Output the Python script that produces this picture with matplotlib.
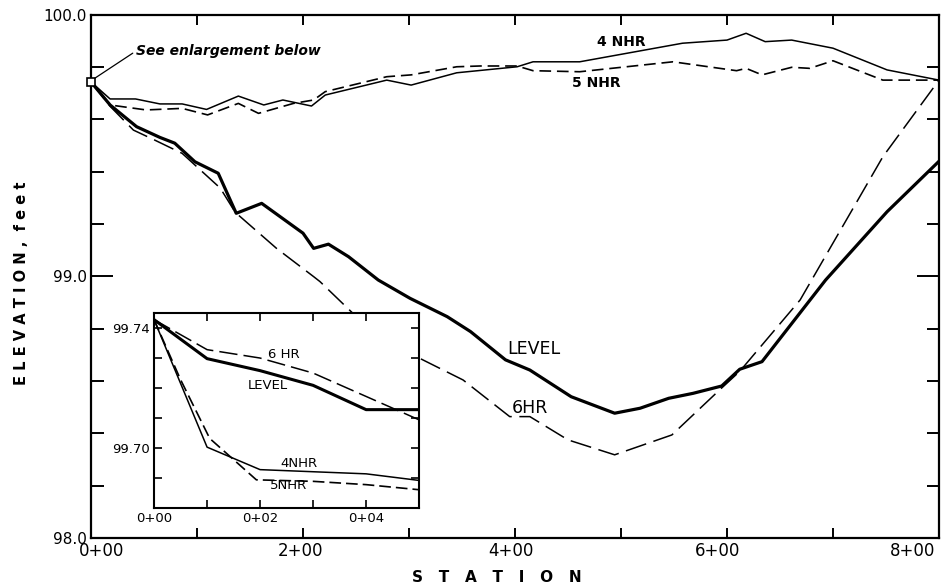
import numpy as np
import matplotlib.pyplot as plt
import matplotlib.transforms as mtransforms
from matplotlib.ticker import MultipleLocator, FixedLocator

# ---- main profile data (station in hundreds of ft, elevation in ft)
nhr4_x = [0, 0.18, 0.42, 0.65, 0.86, 1.09, 1.39, 1.63, 1.81, 2.08, 2.21, 2.79, 3.02, 3.45,
          4.02, 4.17, 4.61, 5.58, 6.0, 6.18, 6.36, 6.61, 7.0, 7.51, 8.0]
nhr4_y = [99.743, 99.678, 99.678, 99.659, 99.659, 99.638, 99.689, 99.655, 99.674, 99.651,
          99.693, 99.750, 99.731, 99.778, 99.801, 99.820, 99.820, 99.891, 99.903, 99.929,
          99.897, 99.903, 99.872, 99.789, 99.750]

nhr5_x = [0, 0.18, 0.52, 0.86, 1.10, 1.39, 1.58, 1.91, 2.10, 2.21, 2.79, 3.02, 3.45, 3.67,
          4.02, 4.17, 4.61, 5.49, 6.09, 6.18, 6.33, 6.61, 6.78, 7.0, 7.47, 8.0]
nhr5_y = [99.743, 99.655, 99.636, 99.642, 99.617, 99.661, 99.623, 99.661, 99.674, 99.706,
          99.763, 99.770, 99.801, 99.804, 99.804, 99.786, 99.782, 99.820, 99.786, 99.795,
          99.770, 99.799, 99.795, 99.824, 99.750, 99.750]

level_x = [0, 0.18, 0.43, 0.65, 0.79, 0.98, 1.20, 1.37, 1.61, 2.0, 2.10, 2.24, 2.43, 2.71,
           3.01, 3.36, 3.58, 3.91, 4.14, 4.53, 4.94, 5.18, 5.45, 5.68, 5.95, 6.12, 6.33,
           6.93, 7.51, 8.0]
level_y = [99.743, 99.655, 99.572, 99.531, 99.509, 99.438, 99.394, 99.241, 99.279, 99.165,
           99.107, 99.123, 99.075, 98.986, 98.916, 98.846, 98.789, 98.681, 98.642, 98.540,
           98.477, 98.496, 98.534, 98.553, 98.581, 98.645, 98.674, 98.986, 99.247, 99.44]

hr6_x = [0, 0.18, 0.40, 0.60, 0.86, 1.22, 1.36, 1.75, 2.10, 2.16, 2.47, 3.10, 3.51, 3.95,
         4.14, 4.50, 4.94, 5.48, 5.93, 6.12, 6.69, 7.47, 8.0]
hr6_y = [99.743, 99.650, 99.559, 99.521, 99.470, 99.337, 99.245, 99.107, 98.999, 98.980,
         98.859, 98.687, 98.604, 98.464, 98.464, 98.375, 98.318, 98.394, 98.566, 98.637,
         98.910, 99.457, 99.750]

# ---- enlargement data (station in ft)
in_x = [0, 1, 2, 3, 4, 5]
in_level = [99.7428, 99.7298, 99.7258, 99.7209, 99.7128, 99.7128]
in_hr6 = [99.7428, 99.7328, 99.7300, 99.7250, 99.7172, 99.7094]
in_nhr4_x = [0, 1, 2, 4, 5]
in_nhr4 = [99.7428, 99.7003, 99.6928, 99.6914, 99.6892]
in_nhr5_x = [0, 0.5, 1.05, 1.93, 3, 4, 5]
in_nhr5 = [99.7428, 99.7228, 99.7032, 99.6894, 99.6889, 99.6878, 99.6861]

main_xticks = [0, 2, 4, 6, 8]
main_xlabels = ['0+00', '2+00', '4+00', '6+00', '8+00']
inset_xticks = [0, 2, 4]
inset_xlabels = ['0+00', '0+02', '0+04']

plt.rcParams['font.family'] = 'DejaVu Sans'

fig = plt.figure(figsize=(9.51, 5.88), dpi=100)
ax = fig.add_axes([0.0957, 0.085, 0.8917, 0.890])

ax.plot(nhr4_x, nhr4_y, color='black', lw=1.1)
ax.plot(nhr5_x, nhr5_y, color='black', lw=1.2, dashes=(7, 3.5))
ax.plot(level_x, level_y, color='black', lw=2.3)
ax.plot(hr6_x, hr6_y, color='black', lw=1.1, dashes=(14, 5))
ax.plot([0], [99.743], marker='s', ms=6, mfc='white', mec='black', mew=1.2, clip_on=False, zorder=5)

ax.set_xlim(0, 8)
ax.set_ylim(98.0, 100.0)
ax.set_xticks(main_xticks, main_xlabels)
ax.xaxis.set_minor_locator(FixedLocator([1, 3, 5, 7]))
ax.set_yticks([98.0, 99.0, 100.0], ['98.0', '99.0', '100.0'])
ax.yaxis.set_minor_locator(MultipleLocator(0.2))
ax.tick_params(axis='x', which='both', direction='in', length=7, width=1.4, top=True,
               labelsize=12, pad=3)
ax.tick_params(axis='y', which='major', direction='in', length=16, width=1.4, right=True,
               labelsize=11, pad=3)
ax.tick_params(axis='y', which='minor', direction='in', length=9, width=1.4, right=True)
for s in ax.spines.values():
    s.set_linewidth(1.6)

# hand-lettered station labels sit a little off their ticks
shifts = [11, -3, -4, -9, -26]
for lab, dx in zip(ax.get_xticklabels(), shifts):
    lab.set_transform(lab.get_transform() + mtransforms.Affine2D().translate(dx, 0))

fig.text(497 / 951, 1 - 577 / 588, 'S   T   A   T   I   O   N', fontsize=11,
         fontweight='bold', ha='center', va='center')
fig.text(22 / 951, 1 - 283 / 588, 'E L E V A T I O N ,  f e e t', fontsize=10.5,
         fontweight='bold', rotation=90, ha='center', va='center')

ax.text(5.0, 99.895, '4 NHR', fontsize=10, fontweight='bold', ha='center', va='center')
ax.text(4.77, 99.739, '5 NHR', fontsize=10, fontweight='bold', ha='center', va='center')
ax.text(4.18, 98.723, 'LEVEL', fontsize=12.5, ha='center', va='center')
ax.text(4.14, 98.497, '6HR', fontsize=12.5, ha='center', va='center')
ax.annotate('See enlargement below', xy=(0.02, 99.753), xytext=(0.42, 99.86),
            fontsize=10, style='italic', fontweight='bold', va='center',
            arrowprops=dict(arrowstyle='-', color='black', lw=0.9, shrinkA=0, shrinkB=0,
                            relpos=(0, 0.5)))

# ---- enlargement inset
ins = fig.add_axes([0.162, 0.136, 0.2787, 0.3316])
ins.set_facecolor('white')
ins.plot(in_x, in_level, color='black', lw=2.2)
ins.plot(in_x, in_hr6, color='black', lw=1.1, dashes=(12, 4))
ins.plot(in_nhr4_x, in_nhr4, color='black', lw=1.1)
ins.plot(in_nhr5_x, in_nhr5, color='black', lw=1.2, dashes=(7, 3))
ins.set_xlim(0, 5)
ins.set_ylim(99.68, 99.745)
ins.set_xticks(inset_xticks, inset_xlabels)
ins.xaxis.set_minor_locator(FixedLocator([1, 3]))
ins.set_yticks([99.70, 99.74], ['99.70', '99.74'])
ins.yaxis.set_minor_locator(FixedLocator([99.69, 99.71, 99.72, 99.73]))
ins.tick_params(which='both', direction='in', length=6, width=1.2, top=True, right=True,
                labelsize=9.5, pad=3)
for s in ins.spines.values():
    s.set_linewidth(1.5)
ins.text(2.44, 99.7311, '6 HR', fontsize=9.5, ha='center', va='center')
ins.text(2.15, 99.7208, 'LEVEL', fontsize=9.5, ha='center', va='center')
ins.text(2.74, 99.6948, '4NHR', fontsize=9.5, ha='center', va='center')
ins.text(2.54, 99.6876, '5NHR', fontsize=9.5, ha='center', va='center')

fig.savefig('out.png', dpi=100)
